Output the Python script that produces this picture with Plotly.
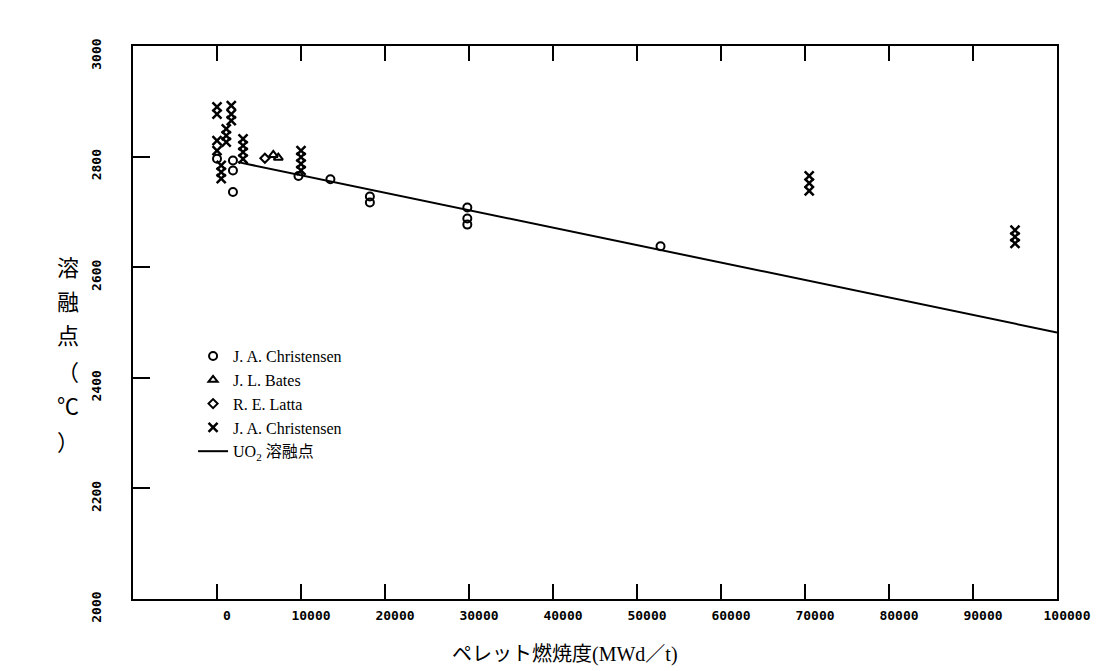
import plotly.graph_objects as go

# --- data ---
# J. A. Christensen (circles)
circ_burnup = [0, 1900, 1900, 1900, 9700, 13500, 18200, 18200, 29800, 29800, 29800, 52800]
circ_temp = [2796, 2736, 2793, 2775, 2765, 2759, 2728, 2717, 2708, 2688, 2677, 2638]

# J. L. Bates (triangles)
tri_burnup = [6700, 7300]
tri_temp = [2803, 2798]

# R. E. Latta (diamonds)
dia_burnup = [5700]
dia_temp = [2797]

# J. A. Christensen (crosses)
x_burnup = [0, 0, 0, 0,
            500, 500, 500,
            1100, 1100, 1100,
            1700, 1700, 1700,
            3100, 3100, 3100, 3100,
            10000, 10000, 10000, 10000,
            70500, 70500, 70500,
            95000, 95000, 95000]
x_temp = [2890, 2877, 2829, 2811,
          2784, 2772, 2760,
          2850, 2838, 2826,
          2892, 2877, 2865,
          2832, 2820, 2808, 2796,
          2811, 2799, 2787, 2775,
          2765, 2752, 2738,
          2667, 2655, 2643]

# UO2 melting point line
line_burnup = [2500, 100000]
line_temp = [2790, 2482]

x_tickvals = [0, 10000, 20000, 30000, 40000, 50000, 60000, 70000, 80000, 90000, 100000]
x_ticktext = [str(v) for v in x_tickvals]
y_tickvals = [2000, 2200, 2400, 2600, 2800, 3000]
y_ticktext = [str(v) for v in y_tickvals]

legend_names = ["J. A. Christensen", "J. L. Bates", "R. E. Latta", "J. A. Christensen", "UO<sub>2</sub> 溶融点"]
x_title = "ペレット燃焼度(MWd／t)"
y_title_chars = ["溶", "融", "点", "（", "℃", "）"]

# --- figure ---
W, H = 1111, 671
ML, MR, MT, MB = 125, 62, 38, 80

fig = go.Figure()
fig.add_trace(go.Scatter(x=circ_burnup, y=circ_temp, mode="markers", name=legend_names[0],
                         marker=dict(symbol="circle-open", size=8, color="black", line=dict(width=2, color="black"))))
fig.add_trace(go.Scatter(x=tri_burnup, y=tri_temp, mode="markers", name=legend_names[1],
                         marker=dict(symbol="triangle-up-open", size=8, color="black", line=dict(width=2, color="black"))))
fig.add_trace(go.Scatter(x=dia_burnup, y=dia_temp, mode="markers", name=legend_names[2],
                         marker=dict(symbol="diamond-open", size=7, color="black", line=dict(width=2, color="black"))))
fig.add_trace(go.Scatter(x=x_burnup, y=x_temp, mode="markers", name=legend_names[3],
                         marker=dict(symbol="x-thin", size=9, color="black", line=dict(width=2.5, color="black"))))
fig.add_trace(go.Scatter(x=line_burnup, y=line_temp, mode="lines", name=legend_names[4],
                         line=dict(color="black", width=2)))

tickfont = dict(family="DejaVu Sans Mono", size=13, color="black", weight="bold")

fig.update_layout(
    width=W, height=H,
    margin=dict(l=ML, r=MR, t=MT, b=MB),
    paper_bgcolor="white", plot_bgcolor="white",
    showlegend=True,
    legend=dict(x=0.065, y=0.47, xanchor="left", yanchor="top",
                bgcolor="rgba(0,0,0,0)", borderwidth=0,
                font=dict(family="Liberation Serif, Noto Sans CJK JP", size=16, color="black"),
                tracegroupgap=0),
    xaxis=dict(range=[-10000, 100000], tickmode="array", tickvals=x_tickvals, ticktext=x_ticktext,
               ticks="inside", ticklen=15, tickwidth=2, tickcolor="black",
               showline=True, linecolor="black", linewidth=2, mirror="ticks",
               showgrid=False, zeroline=False, tickfont=tickfont,
               ticklabelstandoff=3, ticklabelshift=10),
    yaxis=dict(range=[2000, 3000], tickmode="array", tickvals=y_tickvals, ticktext=y_ticktext,
               ticks="inside", ticklen=17, tickwidth=2, tickcolor="black",
               showline=True, linecolor="black", linewidth=2, mirror=True,
               showgrid=False, zeroline=False, tickfont=tickfont, tickangle=-90,
               ticklabelstandoff=25, ticklabelshift=10),
    font=dict(family="Liberation Serif, Noto Sans CJK JP", color="black"),
)

pw = W - ML - MR
ph = H - MT - MB

# x-axis title
fig.add_annotation(text=x_title, xref="paper", yref="paper",
                   x=(557 - ML) / pw, y=-(646 - (H - MB)) / ph, showarrow=False,
                   xanchor="center", yanchor="middle",
                   font=dict(family="Liberation Serif, Noto Sans CJK JP", size=20, color="black"))
# y-axis title (vertical, upright characters)
y_char_pos = [258, 292, 326, 362, 396, 432]
for ch, py in zip(y_title_chars, y_char_pos):
    fig.add_annotation(text=ch, xref="paper", yref="paper",
                       x=(60 - ML) / pw, y=1 - (py - MT) / ph, showarrow=False,
                       xanchor="center", yanchor="middle",
                       font=dict(family="Noto Sans CJK JP", size=22, color="black"))

fig.write_html("out.html")
